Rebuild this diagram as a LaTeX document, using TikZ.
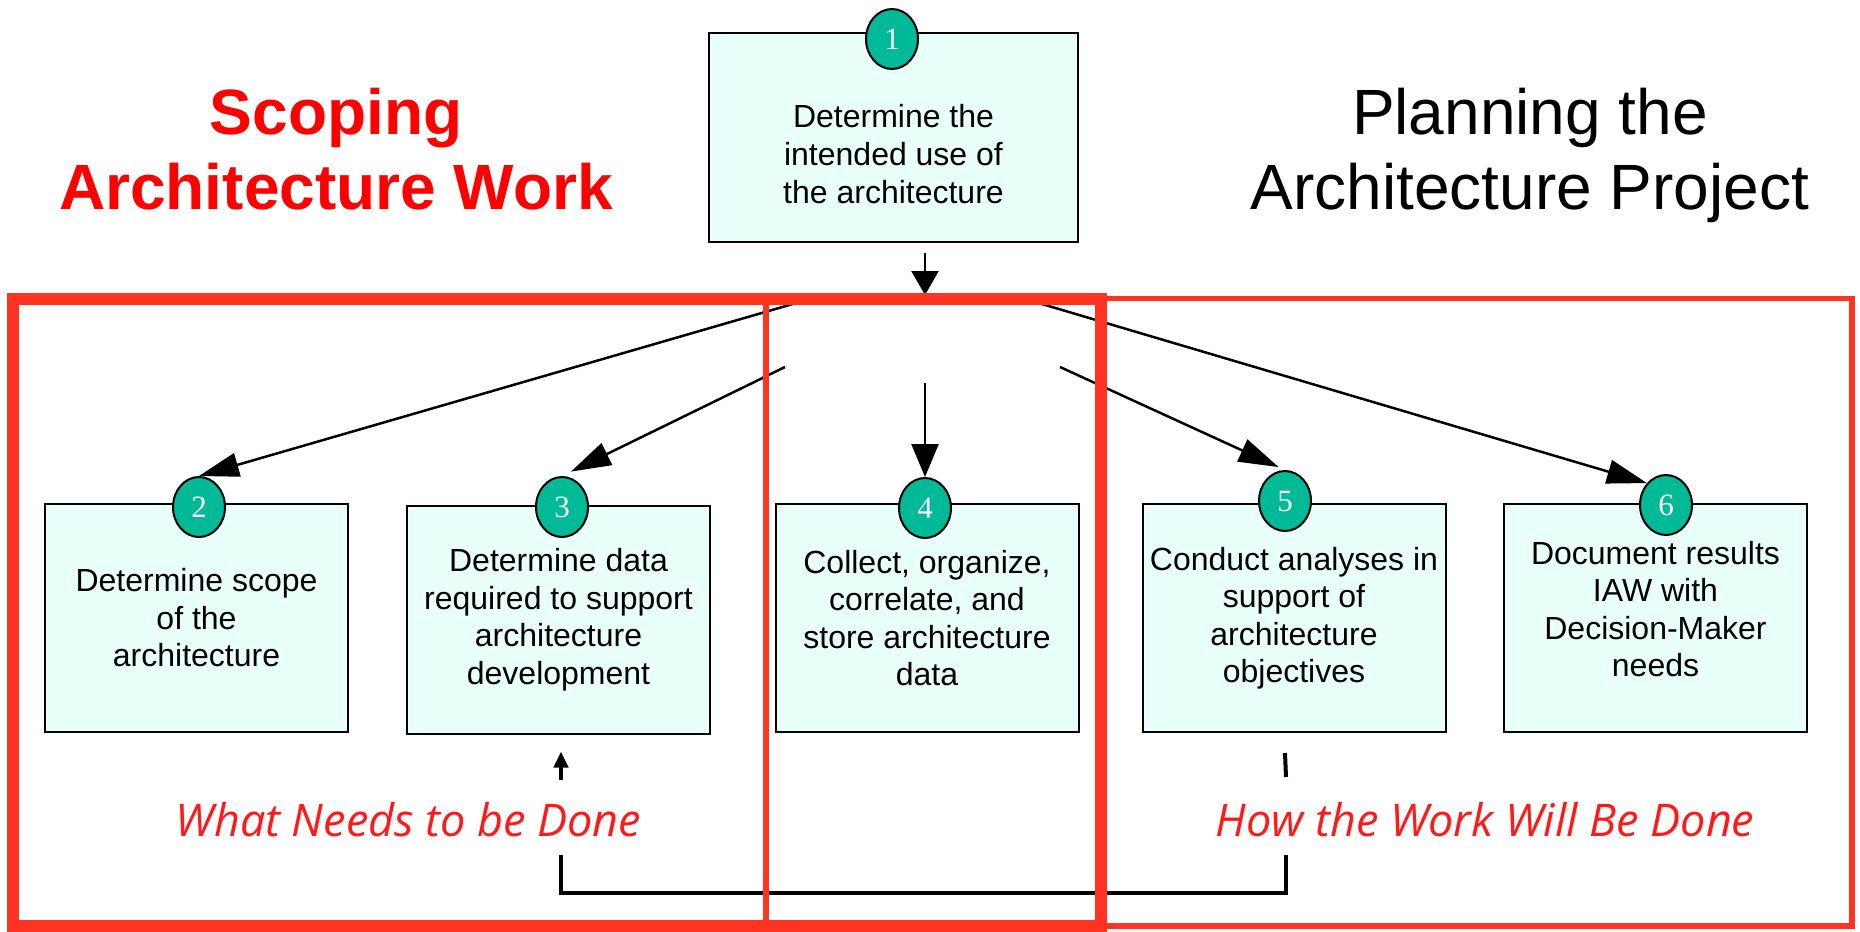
\documentclass[tikz,border=0pt]{standalone}
\usepackage{fontspec}
\setmainfont{Liberation Sans}
\newfontfamily\numfont{Liberation Serif}
\newfontfamily\notefont{Open Sans}
\usetikzlibrary{arrows.meta,shapes.geometric}
\definecolor{framered}{RGB}{255,51,34}
\definecolor{boxfill}{RGB}{232,255,250}
\definecolor{badge}{RGB}{0,185,150}
\definecolor{titlered}{RGB}{255,0,0}
\definecolor{notered}{RGB}{255,25,25}
\begin{document}
\begin{tikzpicture}[x=0.5pt,y=-0.5pt,
  stepbox/.style={draw=black,line width=1pt,fill=boxfill,minimum width=151.5pt,
    minimum height=114pt,inner sep=0pt,align=center,
    font=\fontsize{16}{18.75}\selectfont},
  steptext/.style={align=center,inner sep=0pt,font=\fontsize{16}{19}\selectfont},
  badgenum/.style={ellipse,draw=black,line width=1pt,fill=badge,minimum width=26pt,
    minimum height=30pt,inner sep=0pt,text=white,
    font=\numfont\fontsize{15.5}{15.5}\selectfont},
  flow/.style={draw=black,line width=1.25pt,-{Triangle[length=20pt,width=12pt]}},
  flowdown/.style={draw=black,line width=1.25pt,-{Triangle[length=16.5pt,width=13.5pt]}},
  flowtop/.style={draw=black,line width=1.25pt,-{Triangle[length=12pt,width=13.5pt]}},
  feedback/.style={draw=black,line width=2pt,line join=miter},
  framethin/.style={draw=framered,line width=2.75pt},
  framethick/.style={draw=framered,line width=6pt},
  heading/.style={align=center,inner sep=0pt,font=\fontsize{32}{37.5}\selectfont},
  note/.style={inner sep=0pt,text=notered,font=\notefont\itshape\fontsize{22.5}{27}\selectfont}
]
\useasboundingbox (0,0) rectangle (1860,932);

% headings
\node[heading,text=titlered,font=\bfseries\fontsize{32}{37.5}\selectfont] (scoping) at (336,149)
  {Scoping\\Architecture Work};
\node[heading] (planning) at (1530,155) {Planning the\\Architecture Project};

% step 1
\node[stepbox,minimum width=184.5pt,minimum height=104.5pt] (b1) at (893.5,137.5) {};
\node[steptext] (t1) at ([yshift=-8.5pt]b1.center) {Determine the\\intended use of\\the architecture};
\node[badgenum] (c1) at (892,39) {1};

% steps 2--6
\node[stepbox] (b2) at (196.5,618) {Determine scope\\of the\\architecture};
\node[stepbox] (b3) at (558.5,619.5) {Determine data\\required to support\\architecture\\development};
\node[stepbox] (b4) at (927,618) {Collect, organize,\\correlate, and\\store architecture\\data};
\node[stepbox] (b5) at (1294,618) {Conduct analyses in\\support of\\architecture\\objectives};
\node[stepbox] (b6) at (1655.5,618) {};
\node[steptext,font=\fontsize{16}{18.75}\selectfont] (t6) at ([yshift=4.5pt]b6.center)
  {Document results\\IAW with\\Decision-Maker\\needs};

\node[badgenum] (c2) at (199,507) {2};
\node[badgenum] (c3) at (562,507) {3};
\node[badgenum] (c4) at (925,508) {4};
\node[badgenum] (c5) at (1285,501) {5};
\node[badgenum] (c6) at (1666,505) {6};

% fan-out from step 1
\coordinate (hub) at (925,299);
\coordinate (fanL) at (810,299);
\coordinate (fanR) at (1025,299);
\coordinate (splitL) at (785,367);
\coordinate (splitC) at (925,383);
\coordinate (splitR) at (1060,367);

\draw[flowtop,shorten <=5pt,shorten >=2pt] (b1.south -| hub) -- (hub);
\draw[flow] (fanL) -- (c2.north);
\draw[flow,shorten >=5pt] (splitL) -- (c3.north);
\draw[flowdown] (splitC) -- (c4.north);
\draw[flow,shorten >=3.5pt] (splitR) -- (c5.north);
\draw[flow] (fanR) -- (c6.north west);

% feedback from step 5 to step 3
\coordinate (fb5top) at ([yshift=-10pt]b5.south -| c5);
\coordinate (fb5mid) at (1286,777);
\coordinate (fb5low) at (1286,855);
\coordinate (fbR) at (1286,893);
\coordinate (fbL) at (561,893);
\coordinate (fb3low) at (561,855);
\coordinate (fb3mid) at (561,780);
\coordinate (fb3top) at ([yshift=-8.5pt]b3.south -| fbL);

\draw[feedback] (fb5top) -- (fb5mid);
\draw[feedback] (fb5low) -- (fbR) -- (fbL) -- (fb3low);
\draw[feedback,-{Triangle[length=8pt,width=7pt]}] (fb3mid) -- (fb3top);

% captions
\node[note] (what) at (408.5,820) {What Needs to be Done};
\node[note] (how) at (1485,820) {How the Work Will Be Done};

% grouping frames
\draw[framethin] (766,299) rectangle (1101,926);
\draw[framethin] (1101,298.5) rectangle (1852,926);
\draw[framethick] (13,299) rectangle (1101,926);
\end{tikzpicture}
\end{document}
